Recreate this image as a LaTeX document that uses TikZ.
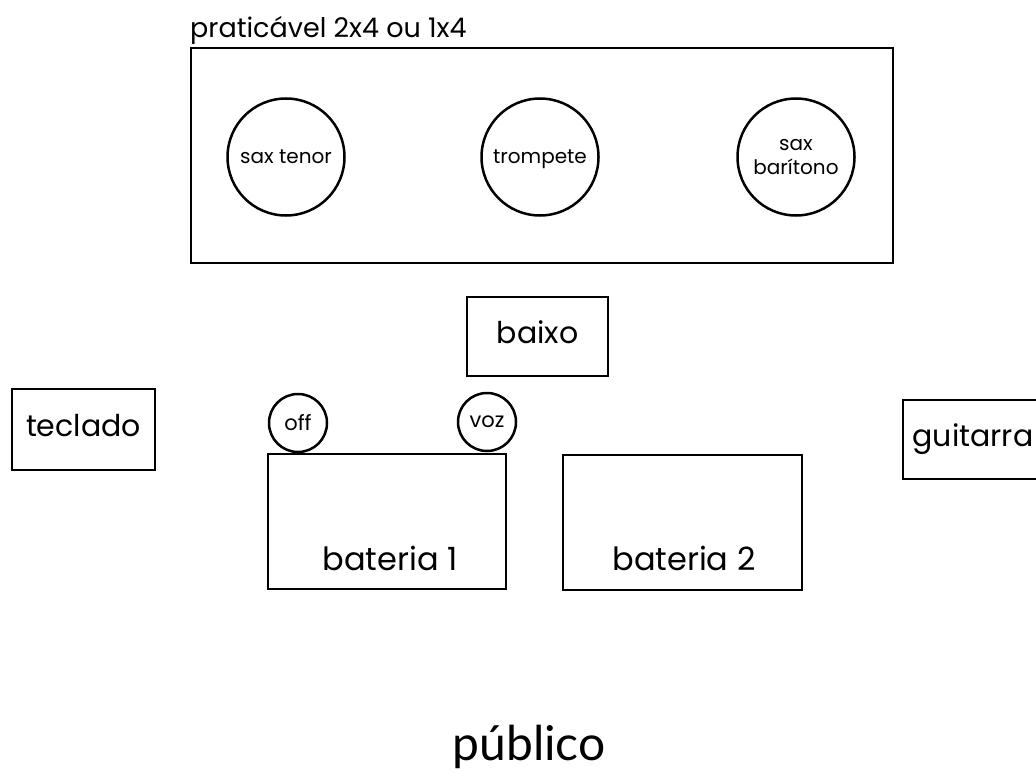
\documentclass[tikz,border=0pt]{standalone}
\usepackage{fontspec}
\setmainfont{Poppins}
\newfontfamily\publicofont{Lato}
\usetikzlibrary{positioning}
\tikzset{
  stand/.style={draw,line width=2.5pt,rectangle,inner sep=0pt},
  player/.style={draw,line width=2.5pt,circle,inner sep=0pt,minimum size=117pt,align=center,font=\fontsize{20}{24}\selectfont},
  mic/.style={draw,line width=2.5pt,circle,inner sep=0pt,minimum size=58pt,font=\fontsize{21}{24}\selectfont},
  tag/.style={font=\fontsize{30}{36}\selectfont,text height=22pt,text depth=9pt},
}
\begin{document}
\begin{tikzpicture}[x=1pt,y=-1pt]
                \useasboundingbox (0,0) rectangle (1036,773);
                % praticavel com os sopros
                \node[stand,minimum width=702pt,minimum height=215pt] (prat) at (542,155.5) {};
                \node[anchor=base west,inner sep=0pt,font=\fontsize{27}{30}\selectfont] (pratlbl) at (190,38) {praticável 2x4 ou 1x4};
                \node[player] (tenor) at (286,157) {sax tenor};
                \node[player,text depth=0pt] (trompete) at (540,157) {trompete};
                \node[player] (baritono) at (796,157) {sax\\barítono};
                % palco
                \node[stand,tag,minimum width=141pt,minimum height=79pt] (baixo) at (537.5,336.5) {baixo};
                \node[stand,tag,minimum width=143pt,minimum height=81pt] (teclado) at (83.5,429.5) {teclado};
                \node[stand,tag,minimum width=140pt,minimum height=79pt] (guitarra) at (973,439.5) {guitarra};
                \node[stand,minimum width=238pt,minimum height=135pt] (bat1) at (387,521.5) {};
                \node[stand,minimum width=239pt,minimum height=135pt] (bat2) at (682.5,522.5) {};
                \node[anchor=base,inner sep=0pt,font=\fontsize{32}{38}\selectfont] (bat1lbl) at (390,570) {bateria 1};
                \node[anchor=base,inner sep=0pt,font=\fontsize{32}{38}\selectfont] (bat2lbl) at (684,570) {bateria 2};
                \node[mic] (off) at (298,423) {off};
                \node[mic,text depth=0pt] (voz) at (487,422) {voz};
                % plateia
                \node[anchor=base,inner sep=0pt,font=\publicofont\fontsize{48}{56}\selectfont] (publico) at (529,760) {público};
            \end{tikzpicture}
\end{document}
